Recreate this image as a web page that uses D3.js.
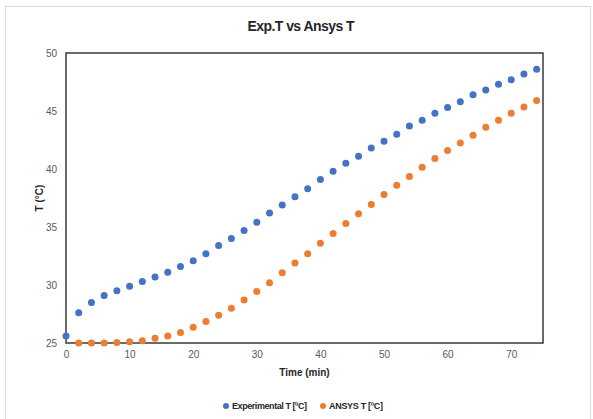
<!DOCTYPE html>
<html>
<head>
<meta charset="utf-8">
<script src="https://cdnjs.cloudflare.com/ajax/libs/d3/7.8.5/d3.min.js"></script>
<style>
  body { margin: 0; background: #fff; }
  svg { display: block; font-family: "Liberation Sans", Arial, sans-serif; }
</style>
</head>
<body>
<div id="chart"></div>
<script>
  // time (min), sampled every 2 min
  var timeExp = [0, 2, 4, 6, 8, 10, 12, 14, 16, 18, 20, 22, 24, 26, 28, 30, 32, 34, 36, 38,
                 40, 42, 44, 46, 48, 50, 52, 54, 56, 58, 60, 62, 64, 66, 68, 70, 72, 74];
  var expT = [25.6, 27.6, 28.5, 29.1, 29.5, 29.9, 30.3, 30.7, 31.1, 31.6, 32.1, 32.7, 33.4, 34.0, 34.7, 35.4, 36.2, 36.9, 37.6, 38.3,
              39.1, 39.8, 40.5, 41.1, 41.8, 42.4, 43.0, 43.7, 44.2, 44.8, 45.3, 45.8, 46.4, 46.8, 47.3, 47.7, 48.2, 48.6];

  var timeAnsys = [2, 4, 6, 8, 10, 12, 14, 16, 18, 20, 22, 24, 26, 28, 30, 32, 34, 36, 38,
                   40, 42, 44, 46, 48, 50, 52, 54, 56, 58, 60, 62, 64, 66, 68, 70, 72, 74];
  var ansysT = [25.0, 25.0, 25.0, 25.05, 25.1, 25.2, 25.4, 25.6, 25.9, 26.35, 26.85, 27.4, 28.0, 28.7, 29.45, 30.2, 31.05, 31.9, 32.7,
                33.6, 34.45, 35.3, 36.15, 36.95, 37.8, 38.6, 39.35, 40.15, 40.9, 41.6, 42.25, 42.9, 43.6, 44.2, 44.8, 45.35, 45.9];

  var xTicks = [0, 10, 20, 30, 40, 50, 60, 70];
  var yTicks = [25, 30, 35, 40, 45, 50];
  var seriesNames = ["Experimental T [ºC]", "ANSYS T [ºC]"];
  var seriesColors = ["#4472C4", "#ED7D31"];

  var W = 593, H = 419;
  var m = { left: 66, right: 543, top: 53, bottom: 343 };

  var svg = d3.select("#chart").append("svg")
      .attr("width", W)
      .attr("height", H);

  svg.append("rect")
      .attr("x", 5.5).attr("y", 6.5)
      .attr("width", W - 8).attr("height", H - 6)
      .attr("fill", "#fff")
      .attr("stroke", "#d9d9d9");

  var x = d3.scaleLinear().domain([0, 75]).range([m.left, m.right]);
  var y = d3.scaleLinear().domain([25, 50]).range([m.bottom, m.top]);

  // title
  svg.append("text")
      .attr("x", 301).attr("y", 31)
      .attr("text-anchor", "middle")
      .attr("font-size", "14px")
      .attr("font-weight", "bold")
      .attr("fill", "#262626")
      .attr("textLength", 107)
      .text("Exp.T vs Ansys T");

  // axes (labels only)
  var xAxis = svg.append("g")
      .attr("transform", "translate(0," + m.bottom + ")")
      .call(d3.axisBottom(x).tickValues(xTicks).tickSize(0).tickPadding(8));
  var yAxis = svg.append("g")
      .attr("transform", "translate(" + m.left + ",0)")
      .call(d3.axisLeft(y).tickValues(yTicks).tickSize(0).tickPadding(9));
  [xAxis, yAxis].forEach(function(g) {
    g.select(".domain").remove();
    g.selectAll("text")
     .attr("font-family", "inherit")
     .attr("font-size", "10px")
     .attr("fill", "#595959");
  });

  // plot area border
  svg.append("rect")
      .attr("x", m.left).attr("y", m.top)
      .attr("width", m.right - m.left).attr("height", m.bottom - m.top)
      .attr("fill", "none")
      .attr("stroke", "#3a3a3a")
      .attr("stroke-width", 1.5);

  // axis titles
  svg.append("text")
      .attr("x", (m.left + m.right) / 2).attr("y", 376)
      .attr("text-anchor", "middle")
      .attr("font-size", "10px")
      .attr("font-weight", "bold")
      .attr("fill", "#262626")
      .text("Time (min)");
  svg.append("text")
      .attr("transform", "translate(43," + ((m.top + m.bottom) / 2) + ") rotate(-90)")
      .attr("text-anchor", "middle")
      .attr("font-size", "10px")
      .attr("font-weight", "bold")
      .attr("fill", "#262626")
      .text("T (°C)");

  // points
  var series = [
    { t: timeExp, v: expT },
    { t: timeAnsys, v: ansysT }
  ];
  series.forEach(function(s, k) {
    svg.append("g").selectAll("circle")
       .data(s.v)
       .enter()
       .append("circle")
       .attr("cx", function(d, i) { return x(s.t[i]); })
       .attr("cy", function(d) { return y(d); })
       .attr("r", 3.5)
       .attr("fill", seriesColors[k]);
  });

  // legend
  var legendX = [226, 323];
  seriesNames.forEach(function(name, k) {
    svg.append("circle")
       .attr("cx", legendX[k]).attr("cy", 406)
       .attr("r", 3)
       .attr("fill", seriesColors[k]);
    svg.append("text")
       .attr("x", legendX[k] + 6).attr("y", 409)
       .attr("font-size", "9px")
       .attr("font-weight", "600")
       .attr("fill", "#262626")
       .attr("textLength", k === 0 ? 75 : 54)
       .text(name);
  });
</script>
</body>
</html>
